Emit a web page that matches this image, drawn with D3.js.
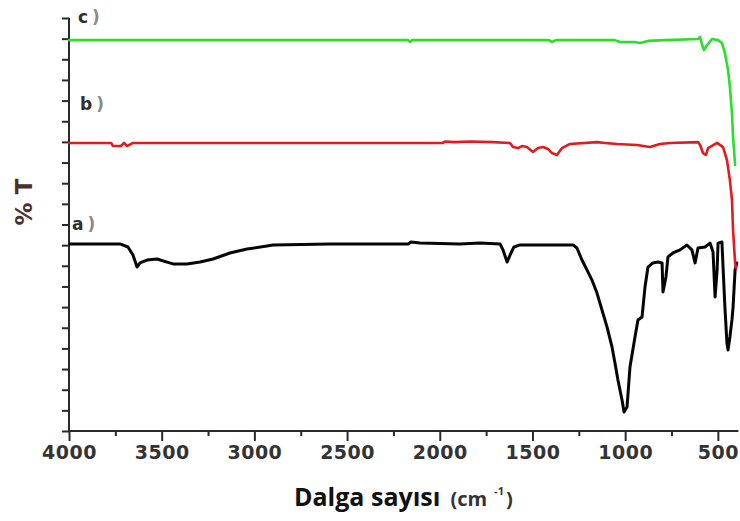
<!DOCTYPE html>
<html>
<head>
<meta charset="utf-8">
<script src="https://cdn.jsdelivr.net/npm/d3@7"></script>
<style>
  html, body { margin: 0; padding: 0; background: #fff; }
  svg { display: block; }
</style>
</head>
<body>
<svg id="chart" width="740" height="521"></svg>
<script>
// FT-IR spectra: wavenumber (cm-1) vs. transmittance (arbitrary offset units)
const seriesA = [ // a) black
  [3995, 9.06], [3725, 9.06], [3682, 8.91], [3655, 8.52], [3633, 7.94], [3617, 8.14],
  [3579, 8.28], [3525, 8.33], [3471, 8.18], [3439, 8.09], [3364, 8.09], [3293, 8.18],
  [3223, 8.33], [3132, 8.62], [3040, 8.81], [2932, 8.96], [2900, 9.01], [2592, 9.06],
  [2171, 9.06], [2155, 9.15], [2107, 9.10], [1891, 9.06], [1783, 9.10], [1675, 9.06],
  [1659, 8.77], [1637, 8.18], [1621, 8.52], [1600, 8.91], [1567, 9.01], [1281, 9.01],
  [1260, 8.86], [1233, 8.28], [1206, 7.80], [1179, 7.31], [1152, 6.68], [1125, 5.86],
  [1098, 5.04], [1071, 4.07], [1055, 3.29], [1039, 2.47], [1017, 1.50], [1006, 0.92],
  [990, 1.16], [974, 3.10], [947, 4.55], [931, 5.38], [909, 5.52], [893, 6.97],
  [877, 7.94], [850, 8.14], [823, 8.18], [801, 8.14], [796, 6.73], [780, 7.46],
  [769, 8.43], [742, 8.62], [704, 8.77], [667, 9.01], [640, 8.77], [623, 8.14],
  [607, 8.86], [569, 8.91], [542, 9.10], [526, 8.67], [515, 6.49], [504, 7.80],
  [499, 9.10], [478, 9.15], [472, 7.94], [462, 6.00], [451, 4.26], [445, 3.92],
  [435, 4.55], [424, 5.38], [418, 6.00], [407, 7.80], [398, 8.14]
];
const seriesB = [ // b) red
  [4000, 13.95], [3773, 13.95], [3763, 13.80], [3720, 13.80], [3703, 13.95], [3687, 13.80],
  [3655, 13.95], [1983, 13.95], [1972, 14.02], [1918, 13.99], [1837, 14.02], [1713, 13.99],
  [1621, 13.95], [1605, 13.75], [1578, 13.70], [1557, 13.80], [1530, 13.75], [1497, 13.51],
  [1470, 13.70], [1443, 13.75], [1416, 13.66], [1395, 13.46], [1368, 13.37], [1341, 13.70],
  [1298, 13.90], [1152, 13.99], [1109, 13.95], [1044, 13.90], [936, 13.85], [866, 13.75],
  [812, 13.90], [758, 13.95], [607, 13.99], [596, 13.85], [580, 13.46], [564, 13.37],
  [553, 13.70], [504, 13.95], [472, 13.75], [451, 13.12], [435, 12.15], [424, 11.19],
  [418, 9.73], [407, 8.14], [402, 7.89]
];
const seriesC = [ // c) green
  [4000, 18.93], [2171, 18.93], [2161, 18.84], [2150, 18.93], [1411, 18.93], [1395, 18.84],
  [1373, 18.93], [1055, 18.93], [1028, 18.84], [947, 18.84], [920, 18.79], [877, 18.89],
  [785, 18.93], [607, 18.98], [596, 19.08], [585, 18.69], [575, 18.45], [558, 18.69],
  [532, 18.98], [499, 18.93], [478, 18.79], [462, 18.31], [445, 17.48], [435, 16.66],
  [424, 15.40], [418, 14.24], [407, 12.88]
];
const seriesLabels = ["a)", "b)", "c)"];
const xMajorTicks = [4000, 3500, 3000, 2500, 2000, 1500, 1000, 500];
const xMinorTicks = [3750, 3250, 2750, 2250, 1750, 1250, 750];
const yTicks = d3.range(0, 21, 1);

const svg = d3.select("#chart");
const plotLeft = 69, plotRight = 736.4, plotTop = 18, plotBottom = 431;

const x = d3.scaleLinear().domain([4000, 400]).range([plotLeft, plotRight]);
const y = d3.scaleLinear().domain([0, 20]).range([plotBottom, plotTop]);

const axisColor = "#2a2a2a";

// x axis: major ticks with labels, minor ticks without
const gx = svg.append("g").attr("transform", `translate(0,${plotBottom})`);
gx.call(d3.axisBottom(x).tickValues(xMajorTicks).tickSize(10).tickPadding(5)
  .tickFormat(d3.format("d")))
  .call(g => g.select(".domain").attr("stroke", axisColor).attr("stroke-width", 2)
    .attr("d", `M${plotLeft},0H${plotRight + 2}`))
  .call(g => g.selectAll(".tick line").attr("stroke", axisColor).attr("stroke-width", 2))
  .call(g => g.selectAll(".tick text")
    .attr("fill", "#333")
    .style("font-family", "'DejaVu Sans', sans-serif")
    .style("font-weight", "bold")
    .style("font-size", "19px")
    .style("letter-spacing", "0.5px"));
const gxMinor = svg.append("g").attr("transform", `translate(0,${plotBottom})`);
gxMinor.call(d3.axisBottom(x).tickValues(xMinorTicks).tickSize(5).tickFormat(""))
  .call(g => g.select(".domain").remove())
  .call(g => g.selectAll(".tick line").attr("stroke", axisColor).attr("stroke-width", 2));

// y axis: unlabeled ticks
const gy = svg.append("g").attr("transform", `translate(${plotLeft},0)`);
gy.call(d3.axisLeft(y).tickValues(yTicks).tickSize(7).tickFormat(""))
  .call(g => g.select(".domain").attr("stroke", axisColor).attr("stroke-width", 2)
    .attr("d", `M0,${plotBottom + 1}V${plotTop}`))
  .call(g => g.selectAll(".tick line").attr("stroke", axisColor).attr("stroke-width", 2));

// spectra
const line = d3.line().x(d => x(d[0])).y(d => y(d[1]));
const traces = [
  { data: seriesA, color: "#050505", width: 3 },
  { data: seriesB, color: "#e21b1b", width: 2.6 },
  { data: seriesC, color: "#2adf2a", width: 2.6 }
];
svg.append("g").selectAll("path").data(traces).join("path")
  .attr("d", d => line(d.data))
  .attr("fill", "none")
  .attr("stroke", d => d.color)
  .attr("stroke-width", d => d.width)
  .attr("stroke-linejoin", "round")
  .attr("stroke-linecap", "round");

// series labels
const labelPos = [
  { x: 72, y: 230 },
  { x: 80, y: 110 },
  { x: 78, y: 23 }
];
const lab = svg.append("g")
  .style("font-family", "'DejaVu Sans', sans-serif")
  .style("font-weight", "bold")
  .style("font-size", "17px");
seriesLabels.forEach((s, i) => {
  const t = lab.append("text").attr("x", labelPos[i].x).attr("y", labelPos[i].y);
  t.append("tspan").attr("fill", "#2e2e2e").text(s.slice(0, 1));
  t.append("tspan").attr("fill", "#8a8a8a").attr("dx", 4).text(s.slice(1));
});

// y axis title
svg.append("text")
  .attr("transform", "translate(32,202) rotate(-90)")
  .attr("text-anchor", "middle")
  .attr("fill", "#4a2f2f")
  .style("font-family", "'DejaVu Sans', sans-serif")
  .style("font-weight", "bold")
  .style("font-size", "23px")
  .text("% T");

// x axis title
const xt = svg.append("text")
  .attr("x", 294).attr("y", 506)
  .attr("fill", "#111")
  .style("font-family", "'Open Sans', sans-serif")
  .style("font-weight", "bold");
xt.append("tspan").style("font-size", "25px").text("Dalga sayısı");
xt.append("tspan").attr("dx", 10).style("font-size", "20px").attr("fill", "#333").text("(cm");
xt.append("tspan").attr("dy", -11).attr("dx", 7).style("font-size", "11px").attr("fill", "#333").text("-1");
xt.append("tspan").attr("dy", 11).attr("dx", 2).style("font-size", "20px").attr("fill", "#333").text(")");
</script>
</body>
</html>
